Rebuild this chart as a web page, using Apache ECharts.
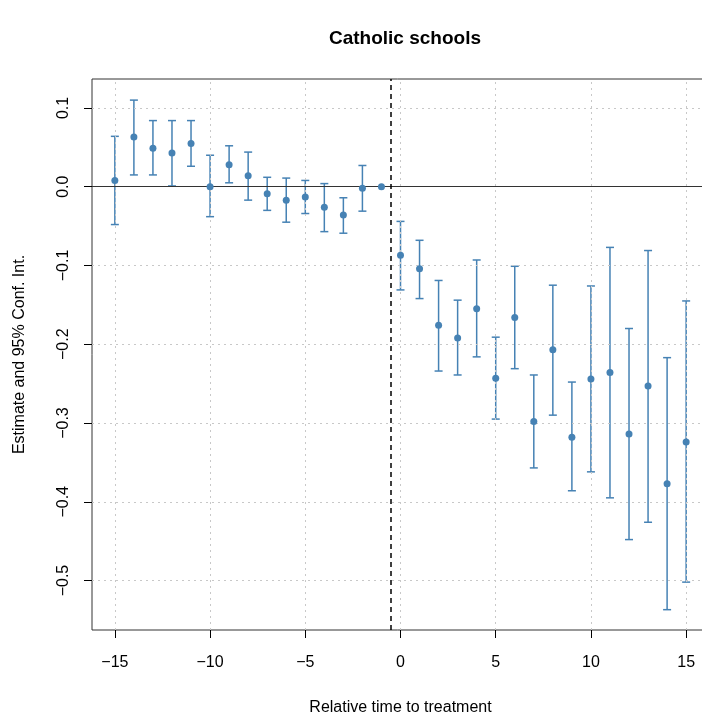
<!DOCTYPE html>
<html>
<head>
<meta charset="utf-8">
<script src="https://cdn.jsdelivr.net/npm/echarts@6/dist/echarts.min.js"></script>
<style>
html,body{margin:0;padding:0;background:#fff;}
#chart{width:702px;height:716px;}
</style>
</head>
<body>
<div id="chart"></div>
<script>
var relTime = [-15,-14,-13,-12,-11,-10,-9,-8,-7,-6,-5,-4,-3,-2,-1,0,1,2,3,4,5,6,7,8,9,10,11,12,13,14,15];
var estimate = [0.008,0.063,0.049,0.043,0.055,0.000,0.028,0.014,-0.009,-0.017,-0.013,-0.026,-0.036,-0.002,0.000,
  -0.087,-0.104,-0.176,-0.192,-0.155,-0.243,-0.166,-0.298,-0.207,-0.318,-0.244,-0.236,-0.314,-0.253,-0.377,-0.324];
var ciUpper = [0.064,0.110,0.084,0.084,0.084,0.040,0.052,0.044,0.012,0.011,0.008,0.004,-0.014,0.027,null,
  -0.044,-0.068,-0.119,-0.144,-0.093,-0.191,-0.101,-0.239,-0.125,-0.248,-0.126,-0.077,-0.180,-0.081,-0.217,-0.145];
var ciLower = [-0.048,0.015,0.015,0.001,0.026,-0.038,0.005,-0.017,-0.030,-0.045,-0.034,-0.057,-0.059,-0.031,null,
  -0.131,-0.142,-0.234,-0.239,-0.216,-0.295,-0.231,-0.357,-0.290,-0.386,-0.362,-0.395,-0.448,-0.426,-0.537,-0.502];
var xTicks = [-15,-10,-5,0,5,10,15];
var yTicks = [-0.5,-0.4,-0.3,-0.2,-0.1,0.0,0.1];
var treatmentLine = -0.5;

var color = '#4682B4';
var fontFam = '"Liberation Sans", Arial, sans-serif';

function fmtY(v){
  var s = Math.abs(v).toFixed(1);
  return (v < -1e-9 ? '\u2212' : '') + s;
}
function fmtX(v){
  return (v < 0 ? '\u2212' : '') + Math.abs(v);
}

var errData = [];
var ptData = [];
for (var i = 0; i < relTime.length; i++) {
  ptData.push([relTime[i], estimate[i]]);
  if (ciUpper[i] !== null) errData.push([relTime[i], ciLower[i], ciUpper[i]]);
}

var gridMarks = [];
xTicks.forEach(function(v){ gridMarks.push({xAxis: v}); });
yTicks.forEach(function(v){ gridMarks.push({yAxis: v}); });

var chart = echarts.init(document.getElementById('chart'), null, {renderer:'canvas'});
chart.setOption({
  animation: false,
  backgroundColor: '#fff',
  title: {
    text: 'Catholic schools',
    left: 400, top: 24, textAlign: 'center',
    textStyle: {fontFamily: fontFam, fontSize: 19, fontWeight: 'bold', color: '#000'}
  },
  grid: {left: 92, top: 79, width: 617, height: 551, containLabel: false, outerBoundsMode: 'none',
    show: true, borderColor: '#333', borderWidth: 1, backgroundColor: 'transparent'},
  xAxis: {
    type: 'value', min: -16.2, max: 16.2,
    name: 'Relative time to treatment', nameLocation: 'middle', nameGap: 70,
    nameTextStyle: {fontFamily: fontFam, fontSize: 16, color: '#000'},
    axisLine: {show: false, onZero: false},
    axisTick: {show: true, customValues: xTicks, length: 8, lineStyle: {color: '#000', width: 1}},
    axisLabel: {customValues: xTicks, formatter: fmtX, margin: 25, fontFamily: fontFam, fontSize: 16, color: '#000'},
    splitLine: {show: false}
  },
  yAxis: {
    type: 'value', min: -0.5628, max: 0.1368,
    name: 'Estimate and 95% Conf. Int.', nameLocation: 'middle', nameGap: 64,
    nameTextStyle: {fontFamily: fontFam, fontSize: 16, color: '#000'},
    axisLine: {show: false, onZero: false},
    axisTick: {show: true, customValues: yTicks, length: 8, lineStyle: {color: '#000', width: 1}},
    axisLabel: {customValues: yTicks, formatter: fmtY, rotate: 90, margin: 20, fontFamily: fontFam, fontSize: 16, color: '#000'},
    splitLine: {show: false}
  },
  series: [
    {
      type: 'line', data: [], silent: true,
      markLine: {
        silent: true, symbol: 'none', label: {show: false},
        lineStyle: {color: '#c8c8c8', type: [2, 4], width: 1},
        data: gridMarks
      }
    },
    {
      type: 'line', data: [], silent: true, z: 3,
      markLine: {
        silent: true, symbol: 'none', label: {show: false},
        data: [
          {yAxis: 0, lineStyle: {color: '#333', type: 'solid', width: 1.2}},
          {xAxis: treatmentLine, lineStyle: {color: '#000', type: [5, 4], width: 1.5}}
        ]
      }
    },
    {
      type: 'custom', z: 4,
      data: errData,
      renderItem: function(params, api){
        var x = api.value(0);
        var lo = api.coord([x, api.value(1)]);
        var hi = api.coord([x, api.value(2)]);
        var hw = 4;
        var st = {stroke: color, lineWidth: 1.5};
        return {type: 'group', children: [
          {type: 'line', shape: {x1: lo[0], y1: lo[1], x2: hi[0], y2: hi[1]}, style: st},
          {type: 'line', shape: {x1: lo[0]-hw, y1: lo[1], x2: lo[0]+hw, y2: lo[1]}, style: st},
          {type: 'line', shape: {x1: hi[0]-hw, y1: hi[1], x2: hi[0]+hw, y2: hi[1]}, style: st}
        ]};
      }
    },
    {
      type: 'scatter', z: 5, data: ptData, symbol: 'circle', symbolSize: 7,
      itemStyle: {color: color, opacity: 1}
    }
  ]
});
</script>
</body>
</html>
